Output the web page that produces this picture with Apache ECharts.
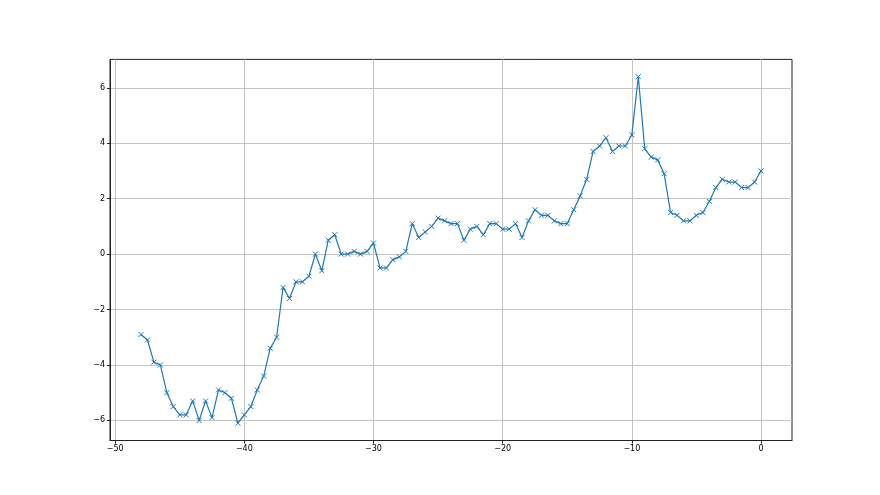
<!DOCTYPE html>
<html>
<head>
<meta charset="utf-8">
<script src="https://cdn.jsdelivr.net/npm/echarts@6/dist/echarts.min.js"></script>
<style>html,body{margin:0;padding:0;background:#fff;}#c{width:880px;height:495px;}</style>
</head>
<body>
<div id="c"></div>
<script>
const xValues = [];
for (let i = 0; i <= 96; i++) xValues.push(-48 + i * 0.5);
const yValues = [
  -2.9, -3.1, -3.9, -4.0, -5.0, -5.5, -5.8, -5.8, -5.3, -6.0,
  -5.3, -5.9, -4.9, -5.0, -5.2, -6.1, -5.8, -5.5, -4.9, -4.4,
  -3.4, -3.0, -1.2, -1.6, -1.0, -1.0, -0.8, 0.0, -0.6, 0.5,
  0.7, 0.0, 0.0, 0.1, 0.0, 0.1, 0.4, -0.5, -0.5, -0.2,
  -0.1, 0.1, 1.1, 0.6, 0.8, 1.0, 1.3, 1.2, 1.1, 1.1,
  0.5, 0.9, 1.0, 0.7, 1.1, 1.1, 0.9, 0.9, 1.1, 0.6,
  1.2, 1.6, 1.4, 1.4, 1.2, 1.1, 1.1, 1.6, 2.1, 2.7,
  3.7, 3.9, 4.2, 3.7, 3.9, 3.9, 4.3, 6.4, 3.8, 3.5,
  3.4, 2.9, 1.5, 1.4, 1.2, 1.2, 1.4, 1.5, 1.9, 2.4,
  2.7, 2.6, 2.6, 2.4, 2.4, 2.6, 3.0
];
const xTicks = [-50, -40, -30, -20, -10, 0];
const yTicks = [-6, -4, -2, 0, 2, 4, 6];

const data = xValues.map((x, i) => [x, yValues[i]]);
const fmt = v => (v < 0 ? '\u2212' + Math.abs(v) : String(v));
const labelStyle = { color: '#000', fontSize: 8, fontFamily: 'DejaVu Sans' };

const chart = echarts.init(document.getElementById('c'), null, { renderer: 'canvas' });
chart.setOption({
  backgroundColor: '#fff',
  animation: false,
  grid: { left: 110, right: 88, top: 59.4, bottom: 54.5, show: true, borderColor: '#222', borderWidth: 1, backgroundColor: 'transparent' },
  xAxis: {
    type: 'value', min: -50.4, max: 2.4,
    axisLine: { show: true, onZero: false, lineStyle: { color: '#222', width: 1 } },
    axisTick: { show: true, customValues: xTicks, length: 3, lineStyle: { color: '#222' } },
    axisLabel: { customValues: xTicks, formatter: fmt, margin: 4, ...labelStyle },
    splitLine: { show: true, lineStyle: { color: '#c4c4c4', width: 1 } }
  },
  yAxis: {
    type: 'value', min: -6.725, max: 7.025,
    axisLine: { show: true, onZero: false, lineStyle: { color: '#222', width: 1 } },
    axisTick: { show: true, customValues: yTicks, length: 3, lineStyle: { color: '#222' } },
    axisLabel: { customValues: yTicks, formatter: fmt, margin: 5, ...labelStyle },
    splitLine: { show: true, lineStyle: { color: '#c4c4c4', width: 1 } }
  },
  series: [{
    type: 'line',
    data: data,
    symbol: 'path://M0,0L10,10M10,0L0,10',
    symbolSize: 5,
    showAllSymbol: true,
    lineStyle: { color: '#1f77b4', width: 1.2 },
    itemStyle: { color: '#1f77b4', borderColor: '#1f77b4', borderWidth: 1 },
    emphasis: { disabled: true }
  }]
});
</script>
</body>
</html>
